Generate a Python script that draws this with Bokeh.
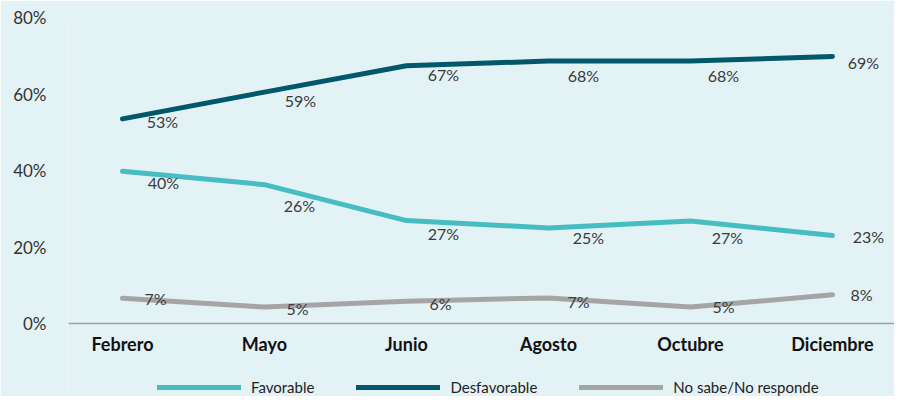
from bokeh.plotting import figure
from bokeh.models import ColumnDataSource, FixedTicker, Legend, LegendItem
from bokeh.core.properties import value
from bokeh.embed import file_html
from bokeh.resources import INLINE

# ---- data ----
months = ["Febrero", "Mayo", "Junio", "Agosto", "Octubre", "Diciembre"]
favorable = [39.8, 36.3, 26.9, 25.0, 26.8, 23.0]
desfavorable = [53.5, 60.5, 67.4, 68.6, 68.6, 69.8]
no_sabe = [6.6, 4.3, 5.8, 6.7, 4.3, 7.5]
fav_labels = ["40%", "26%", "27%", "25%", "27%", "23%"]
des_labels = ["53%", "59%", "67%", "68%", "68%", "69%"]
ns_labels = ["7%", "5%", "6%", "7%", "5%", "8%"]
y_ticks = [0, 20, 40, 60, 80]
y_tick_labels = ["0%", "20%", "40%", "60%", "80%"]

# ---- label placement (screen px offsets from each point) ----
fav_dx = [41, 35, 37, 40, 37, 36]
fav_dy = [11, 21, 13, 10, 16, 1]
des_dx = [40, 36, 37, 35, 33, 31]
des_dy = [3, 8, 9, 14, 14, 6]
ns_dx = [33, 33, 34, 30, 33, 29]
ns_dy = [0, 1, 2, 4, -1, 0]

BG = "#E3F2F5"
C_FAV = "#45BDC3"
C_DES = "#00586A"
C_NS = "#A5A5A5"
FONT = "Lato"

xs = list(range(len(months)))

p = figure(width=894, height=396, output_backend="svg", toolbar_location=None,
           x_range=(-0.38, 5.437), y_range=(-19.08, 80),
           min_border_left=68, min_border_right=0, min_border_top=17,
           min_border_bottom=0)
p.background_fill_color = BG
p.border_fill_color = BG
p.outline_line_color = None
p.xgrid.visible = False
p.ygrid.visible = False

series = [
    ("Favorable", favorable, fav_labels, fav_dx, fav_dy, C_FAV),
    ("Desfavorable", desfavorable, des_labels, des_dx, des_dy, C_DES),
    ("No sabe/No responde", no_sabe, ns_labels, ns_dx, ns_dy, C_NS),
]
items = []
for name, vals, labs, dx, dy, col in series:
    src = ColumnDataSource(dict(x=xs, y=vals, lab=labs, dx=dx, dy=dy))
    r = p.line("x", "y", source=src, line_color=col, line_width=5,
               line_cap="round", line_join="round")
    p.text("x", "y", text="lab", x_offset="dx", y_offset="dy", source=src,
           text_align="center", text_baseline="middle",
           text_font=value(FONT), text_font_size="16px", text_color="#3A3A3A")
    items.append(LegendItem(label=name, renderers=[r]))

# x axis, drawn at y = 0 inside the frame
xa = p.xaxis[0]
xa.fixed_location = 0
xa.ticker = FixedTicker(ticks=xs)
xa.major_label_overrides = {i: m for i, m in enumerate(months)}
xa.axis_line_color = "#A0A0A0"
xa.axis_line_width = 1.5
xa.major_tick_line_color = None
xa.minor_tick_line_color = None
xa.major_label_standoff = 3
xa.major_label_text_font = FONT
xa.major_label_text_font_style = "bold"
xa.major_label_text_font_size = "18px"
xa.major_label_text_color = "#111111"

# y axis
ya = p.yaxis[0]
ya.ticker = FixedTicker(ticks=y_ticks)
ya.major_label_overrides = {t: l for t, l in zip(y_ticks, y_tick_labels)}
ya.axis_line_color = None
ya.major_tick_line_color = None
ya.minor_tick_line_color = None
ya.major_label_standoff = 16
ya.major_label_text_font = FONT
ya.major_label_text_font_size = "17px"
ya.major_label_text_color = "#333333"

legend = Legend(items=items, orientation="horizontal", location=(89, 0),
                glyph_width=84, glyph_height=16, label_standoff=10, spacing=42,
                padding=0, margin=0, background_fill_alpha=0,
                border_line_color=None, label_text_font=FONT,
                label_text_font_size="15px", label_text_color="#222222")
p.add_layout(legend, "center")

open("out.html", "w").write(file_html(p, INLINE))
